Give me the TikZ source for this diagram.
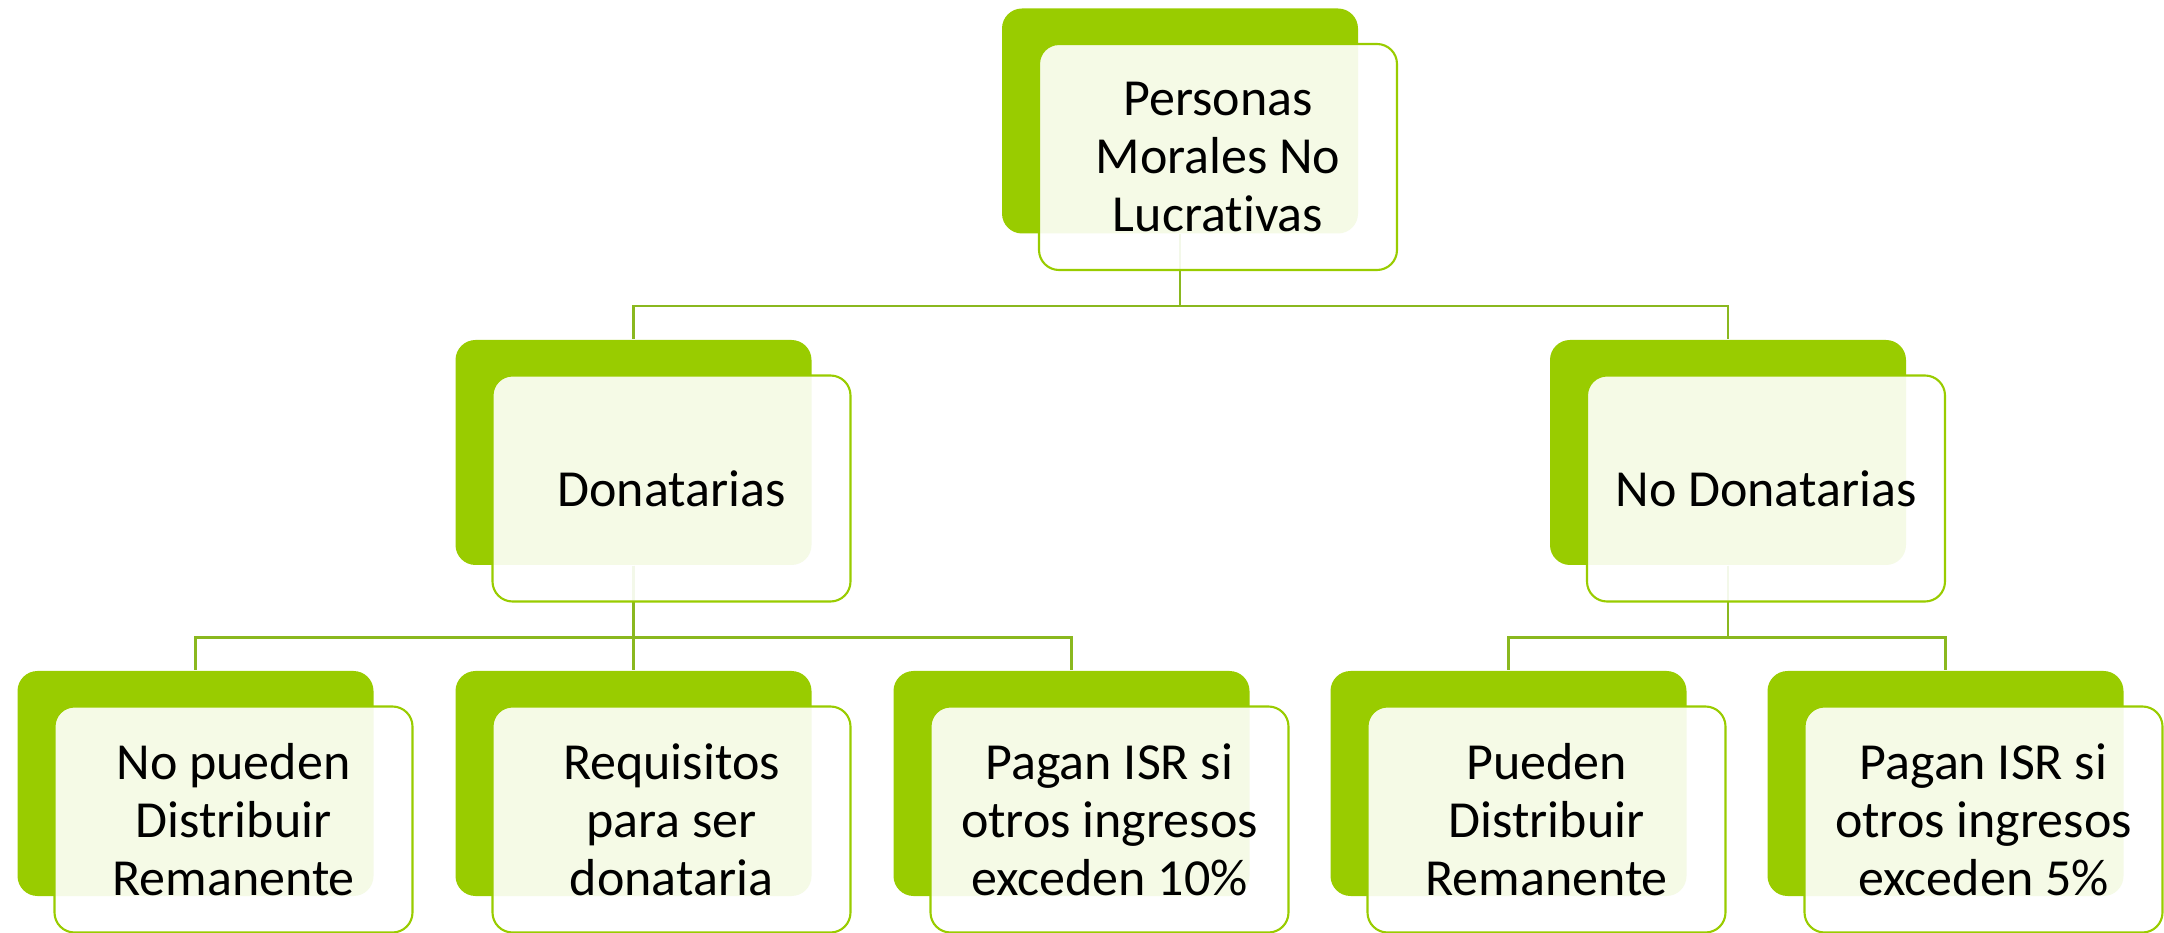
\documentclass[tikz,border=0pt]{standalone}
\usepackage{fontspec}
\setmainfont{Carlito}[Ligatures=NoCommon]
\definecolor{leafgreen}{HTML}{99CC00}
\definecolor{linkgreen}{HTML}{8AB81F}

\tikzset{
  back/.style={rectangle, rounded corners=2mm, fill=leafgreen, minimum width=3.56cm, minimum height=2.25cm, xshift=-3.8mm, yshift=3.6mm},
  front/.style={rectangle, rounded corners=2mm, draw=leafgreen, line width=0.6pt, fill=white, fill opacity=0.9, text opacity=1, minimum width=3.58cm, minimum height=2.26cm, align=center, font=\fontsize{14.8}{16.5}\selectfont},
  link/.style={draw=linkgreen, line width=0.7pt}
}

\begin{document}
\begin{tikzpicture}
\useasboundingbox (0,0) rectangle (21.64,-9.33);
% back plates
\node[back] (pmnl-b) at (12.18,-1.57) {};
\node[back] (don-b) at (6.715,-4.885) {};
\node[back] (nodon-b) at (17.66,-4.885) {};
\node[back] (nodist-b) at (2.335,-8.195) {};
\node[back] (req-b) at (6.715,-8.195) {};
\node[back] (isr10-b) at (11.095,-8.195) {};
\node[back] (dist-b) at (15.465,-8.195) {};
\node[back] (isr5-b) at (19.835,-8.195) {};

% connectors
\draw[link] (pmnl-b.south) -- ++(0,-0.72) -| (don-b.north);
\draw[link] (pmnl-b.south) -- ++(0,-0.72) -| (nodon-b.north);
\draw[link] (don-b.south) -- ++(0,-0.72) -| (nodist-b.north);
\draw[link] (don-b.south) -- (req-b.north);
\draw[link] (don-b.south) -- ++(0,-0.72) -| (isr10-b.north);
\draw[link] (nodon-b.south) -- ++(0,-0.72) -| (dist-b.north);
\draw[link] (nodon-b.south) -- ++(0,-0.72) -| (isr5-b.north);

% front cards
\node[front] (pmnl) at (12.18,-1.57) {Personas\\Morales No\\Lucrativas};
\node[front] (don) at (6.715,-4.885) {Donatarias};
\node[front] (nodon) at (17.66,-4.885) {No Donatarias};
\node[front] (nodist) at (2.335,-8.195) {No pueden\\Distribuir\\Remanente};
\node[front] (req) at (6.715,-8.195) {Requisitos\\para ser\\donataria};
\node[front] (isr10) at (11.095,-8.195) {Pagan ISR si\\otros ingresos\\exceden 10\%};
\node[front] (dist) at (15.465,-8.195) {Pueden\\Distribuir\\Remanente};
\node[front] (isr5) at (19.835,-8.195) {Pagan ISR si\\otros ingresos\\exceden 5\%};
\end{tikzpicture}
\end{document}
